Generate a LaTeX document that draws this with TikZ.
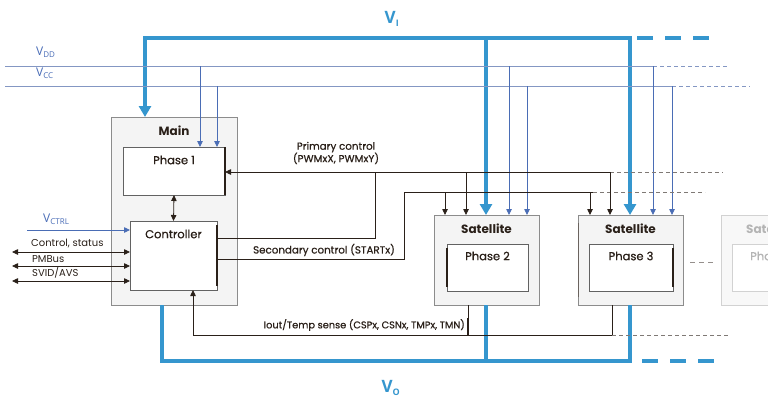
\documentclass[tikz,border=0pt]{standalone}
\usepackage{fontspec}
\setmainfont{Poppins}
\newfontfamily\medfont[FakeBold=0.6]{Poppins}
\newfontfamily\vfont{Open Sans}
\usetikzlibrary{arrows.meta}
\definecolor{vblue}{HTML}{3596CE}
\definecolor{railblue}{HTML}{8497C3}
\definecolor{tapblue}{HTML}{4A6DB5}
\definecolor{lblblue}{HTML}{4B6EB8}
\definecolor{dark}{HTML}{2A2019}
\definecolor{boxfill}{HTML}{F4F4F4}
\definecolor{boxgray}{HTML}{8C8C8C}
\definecolor{fadegray}{HTML}{D2D2D2}
\definecolor{fadetext}{HTML}{B4B4B4}
\tikzset{
  vtip/.tip={Triangle[length=11pt,width=12pt]},
  stip/.tip={Triangle[length=6pt,width=5.5pt]},
  obox/.style={draw=boxgray, fill=boxfill, line width=0.9pt, anchor=north west, inner sep=0pt, outer sep=0pt},
  ibox/.style={draw=boxgray!70!black, fill=white, line width=0.8pt, anchor=north west, inner sep=0pt, outer sep=0pt},
  fbox/.style={draw=fadegray, fill=boxfill!60!white, line width=0.9pt, anchor=north west, inner sep=0pt, outer sep=0pt},
  fibox/.style={draw=fadegray, fill=white, line width=0.8pt, anchor=north west, inner sep=0pt, outer sep=0pt},
  ctl/.style={draw=dark, line width=0.8pt},
  ctlarr/.style={ctl, -stip},
  ctldbl/.style={ctl, stip-stip},
  ctldash/.style={draw=dark!60, line width=0.7pt, dash pattern=on 4pt off 3pt},
  rail/.style={draw=railblue, line width=0.8pt},
  raildash/.style={draw=railblue, line width=0.8pt, dash pattern=on 4pt off 3pt},
  tap/.style={draw=tapblue, line width=0.8pt, -stip},
  vbus/.style={draw=vblue, line width=4pt},
  vdash/.style={draw=vblue, line width=4pt, dash pattern=on 16pt off 12pt},
  lbl/.style={font=\medfont\fontsize{10.3}{12.5}\selectfont, text=dark, inner sep=0pt},
  iolbl/.style={font=\fontsize{10}{12}\selectfont, text=dark, inner sep=0pt, anchor=west},
  ttl/.style={font=\bfseries\fontsize{12}{14}\selectfont, text=dark, inner sep=0pt},
  sub/.style={font=\medfont\fontsize{11.5}{13}\selectfont, text=dark, inner sep=0pt},
  vlbl/.style={font=\vfont\fontsize{12}{14}\selectfont, text=lblblue, inner sep=0pt, anchor=west},
  vbig/.style={font=\vfont\bfseries\fontsize{17}{19}\selectfont, text=vblue, inner sep=0pt},
}
\begin{document}
\begin{tikzpicture}[x=1pt,y=-1pt]
\useasboundingbox (0,0) rectangle (768,400);
\fill[white] (0,0) rectangle (768,400);

% ---- boxes ----
\node[obox, minimum width=126pt, minimum height=188pt] (main) at (111,117) {};
\node[ibox, minimum width=102pt, minimum height=48pt] (phase1) at (123,147) {};
\node[ibox, minimum width=87pt, minimum height=69pt] (ctrl) at (130,221) {};
\node[obox, minimum width=105pt, minimum height=90pt] (sat2) at (434,215) {};
\node[ibox, minimum width=81pt, minimum height=47pt] (ph2) at (447,244) {};
\node[obox, minimum width=105pt, minimum height=90pt] (sat3) at (578,215) {};
\node[ibox, minimum width=84pt, minimum height=47pt] (ph3) at (589,244) {};
\node[fbox, minimum width=105pt, minimum height=90pt] (sat4) at (721,215) {};
\node[fibox, minimum width=84pt, minimum height=47pt] (ph4) at (732,244) {};

% darker edges
\draw[dark, line width=1.1pt] (phase1.north east) -- (phase1.south east);
\draw[dark, line width=1.1pt] ([yshift=-4pt]ctrl.north east) -- ([yshift=4pt]ctrl.south east);
\draw[dark, line width=1.1pt] ([yshift=-4pt]ph2.north west) -- ([yshift=4pt]ph2.south west);
\draw[dark, line width=1.1pt] ([yshift=-4pt]ph3.north east) -- ([yshift=4pt]ph3.south east);
\draw[dark!70, line width=1pt] ([yshift=-8pt]sat3.north west) -- ([yshift=8pt]sat3.south west);

% box labels
\node[ttl] (tmain) at ([yshift=-14pt]main.north) {Main};
\node[sub] (tph1) at ([yshift=-13pt]phase1.north) {Phase 1};
\node[sub] (tctrl) at ([yshift=-13pt]ctrl.north) {Controller};
\node[ttl] (tsat2) at ([yshift=-14pt]sat2.north) {Satellite};
\node[sub] (tph2) at ([yshift=-12pt]ph2.north) {Phase 2};
\node[ttl] (tsat3) at ([yshift=-14pt]sat3.north) {Satellite};
\node[sub] (tph3) at ([yshift=-12pt]ph3.north) {Phase 3};
\node[ttl, text=fadetext, anchor=west] (tsat4) at (746,229) {Satellite};
\node[sub, text=fadetext, anchor=west] (tph4) at (750,256) {Phase};

% ---- V_I bus ----
\node[vbig] (vi) at (392,19) {V\textsubscript{\fontsize{9}{10}\selectfont I}};
\draw[vbus, vtip-vtip] (145,0 |- main.north) -- (145,38) -- (630,38) -- (630,0 |- sat3.north);
\draw[vbus, -vtip] (486,38) -- (486,0 |- sat2.north);
\draw[vdash] (637,38) -- (714,38);

% ---- V_O bus ----
\node[vbig] (vo) at (391,388) {V\textsubscript{\fontsize{9}{10}\selectfont O}};
\draw[vbus] (162,0 |- main.south) -- (162,361) -- (630,361) -- (630,0 |- sat3.south);
\draw[vbus] (486,0 |- sat2.south) -- (486,361);
\draw[vdash] (642,361) -- (715,361);

% ---- VDD / VCC rails ----
\node[vlbl] (vdd) at (36,52) {V\textsubscript{\fontsize{8}{9}\selectfont DD}};
\node[vlbl] (vcc) at (36,73) {V\textsubscript{\fontsize{8}{9}\selectfont CC}};
\coordinate (vddL) at (5,66);
\coordinate (vccL) at (5,86);
\draw[rail] (vddL) -- (653,66);
\draw[raildash] (653,66) -- (728,66);
\draw[rail] (vccL) -- (672,86);
\draw[raildash] (672,86) -- (750,86);
\draw[tap] (200,66) -- (200,0 |- phase1.north);
\draw[tap] (217,86) -- (217,0 |- phase1.north);
\draw[tap] (509,66) -- (509,0 |- sat2.north);
\draw[tap] (527,86) -- (527,0 |- sat2.north);
\draw[tap] (653,66) -- (653,0 |- sat3.north);
\draw[tap] (672,86) -- (672,0 |- sat3.north);

% ---- control lines ----
\node[lbl, align=center] (pcl) at (336,153) {Primary control\\(PWMxX, PWMxY)};
\coordinate (pc) at (375,172);
\draw[ctlarr] (ctrl.east |- 0,238) -- (375,238) -- (pc) -- (phase1.east |- pc);
\draw[ctl] (pc) -- (610,172);
\draw[ctldash] (610,172) -- (723,172);
\node[lbl] (scl) at (324,250) {Secondary control (STARTx)};
\coordinate (sc) at (404,192);
\draw[ctl] (ctrl.east |- 0,259) -- (404,259) -- (sc) -- (593,192);
\draw[ctldash] (593,192) -- (705,192);
\draw[ctlarr] (445,192) -- (445,0 |- sat2.north);
\draw[ctlarr] (466,172) -- (466,0 |- sat2.north);
\draw[ctlarr] (590,192) -- (590,0 |- sat3.north);
\draw[ctlarr] (610,172) -- (610,0 |- sat3.north);

% phase1 <-> controller
\draw[ctldbl] (phase1.south) -- (ctrl.north);

% ---- sense ----
\node[lbl, anchor=east, font=\medfont\fontsize{9.8}{12}\selectfont] (snl) at (465,325) {Iout/Temp sense (CSPx, CSNx, TMPx, TMN)};
\draw[ctlarr] (612,335) -- (193,335) -- (193,0 |- ctrl.south);
\draw[ctl] (468,0 |- sat2.south) -- (468,335);
\draw[ctl, line width=1.6pt] (468,318) -- (468,335);
\draw[ctl] (612,0 |- sat3.south) -- (612,335);
\draw[ctldash] (612,335) -- (728,335);

% dashes between satellites
\draw[draw=dark!50, line width=0.7pt, dash pattern=on 5pt off 4pt] (690,262) -- (714,262);

% ---- left IO ----
\node[vlbl] (vctrl) at (43,219) {V\textsubscript{\fontsize{8}{9}\selectfont CTRL}};
\draw[tap] (27,230) -- (ctrl.west |- 0,230);
\node[iolbl] (cs) at (31,244) {Control, status};
\draw[ctldbl] (12,252) -- (ctrl.west |- 0,252);
\node[iolbl] (pmb) at (32,259) {PMBus};
\draw[ctldbl] (12,266) -- (ctrl.west |- 0,266);
\node[iolbl] (svid) at (32,273) {SVID/AVS};
\draw[ctldbl] (12,281) -- (ctrl.west |- 0,281);
\end{tikzpicture}
\end{document}
